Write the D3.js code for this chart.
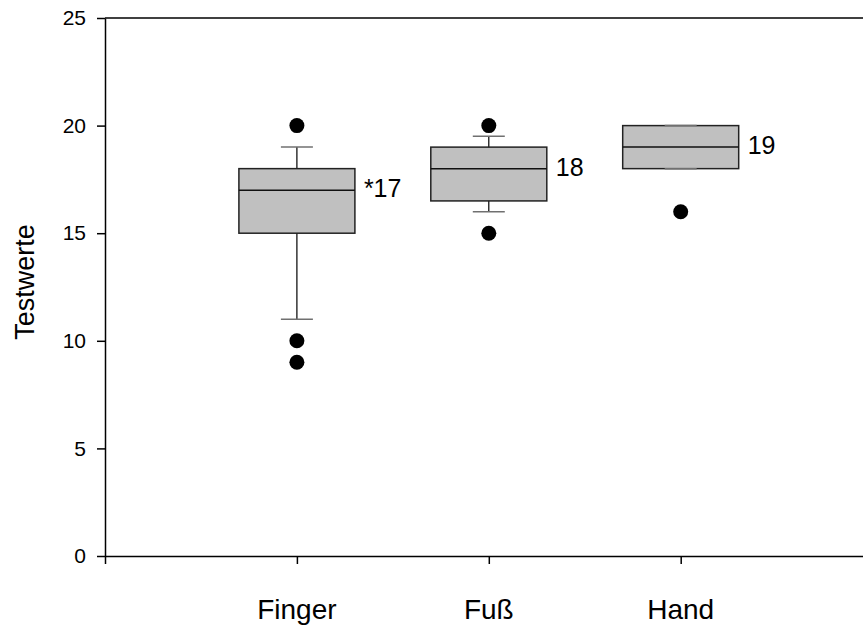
<!DOCTYPE html>
<html lang="de">
<head>
	<meta charset="utf-8">
	<title>Testwerte Boxplot</title>
	<script src="https://cdn.jsdelivr.net/npm/d3@7"></script>
	<style>
		body { margin: 0; background: #fff; }
		text { font-family: Arial, "Liberation Sans", sans-serif; fill: #000; }
	</style>
</head>
<body>
<script>
	// Data
	var categories = ["Finger", "Fuß", "Hand"];
	var lowerWhisker = [11, 16, 18];
	var q1 = [15, 16.5, 18];
	var medians = [17, 18, 19];
	var q3 = [18, 19, 20];
	var upperWhisker = [19, 19.5, 20];
	var outliers = [[20, 10, 9], [20, 15], [16]];
	var boxLabels = ["*17", "18", "19"];
	var yTicks = [0, 5, 10, 15, 20, 25];

	// canvas
	var width = 863;
	var height = 626;
	var margin = {top: 18, right: 0, bottom: 70, left: 105};

	var svg = d3.select("body")
				.append("svg")
				.attr("width", width)
				.attr("height", height);

	// scales: categories sit at 1, 2, 3 on a linear axis
	var xScale = d3.scaleLinear()
				   .domain([0, 3.95])
				   .range([margin.left, width - margin.right]);

	var yScale = d3.scaleLinear()
				   .domain([0, 25])
				   .range([height - margin.bottom, margin.top]);

	var boxWidth = 116;
	var capWidth = 32;

	// y axis
	var yAxis = d3.axisLeft(yScale)
				  .tickValues(yTicks)
				  .tickSize(8)
				  .tickSizeOuter(0)
				  .tickPadding(11);

	var gy = svg.append("g")
		.attr("transform", "translate(" + margin.left + ",0)")
		.call(yAxis);
	gy.attr("font-size", null).attr("font-family", null);
	gy.selectAll("text").style("font-size", "21px");
	gy.selectAll("path, line").attr("stroke", "#000").attr("stroke-width", 1.5);

	// x axis, ticks only
	var xAxis = d3.axisBottom(xScale)
				  .tickValues([0, 1, 2, 3])
				  .tickFormat("")
				  .tickSize(8)
				  .tickSizeOuter(0);

	var gx = svg.append("g")
		.attr("transform", "translate(0," + yScale(0) + ")")
		.call(xAxis);
	gx.selectAll("path, line").attr("stroke", "#000").attr("stroke-width", 1.5);

	// top frame line
	svg.append("line")
		.attr("x1", xScale(0)).attr("x2", xScale(3.95))
		.attr("y1", yScale(25)).attr("y2", yScale(25))
		.attr("stroke", "#000")
		.attr("stroke-width", 1.5);

	// category labels
	svg.selectAll(".cat")
		.data(categories)
		.enter()
		.append("text")
		.attr("class", "cat")
		.attr("x", function(d, i) { return xScale(i + 1); })
		.attr("y", 619)
		.attr("text-anchor", "middle")
		.style("font-size", "28px")
		.text(function(d) { return d; });

	// y title
	svg.append("text")
		.attr("transform", "translate(34," + 282 + ") rotate(-90)")
		.attr("text-anchor", "middle")
		.style("font-size", "27px")
		.text("Testwerte");

	// boxes
	var boxes = svg.selectAll(".box")
		.data(categories)
		.enter()
		.append("g")
		.attr("class", "box");

	// whisker stems
	boxes.append("line")
		.attr("x1", function(d, i) { return xScale(i + 1); })
		.attr("x2", function(d, i) { return xScale(i + 1); })
		.attr("y1", function(d, i) { return yScale(upperWhisker[i]); })
		.attr("y2", function(d, i) { return yScale(lowerWhisker[i]); })
		.attr("stroke", "#000")
		.attr("stroke-width", 1.2);

	boxes.append("rect")
		.attr("x", function(d, i) { return xScale(i + 1) - boxWidth / 2; })
		.attr("y", function(d, i) { return yScale(q3[i]); })
		.attr("width", boxWidth)
		.attr("height", function(d, i) { return yScale(q1[i]) - yScale(q3[i]); })
		.attr("fill", "#c0c0c0")
		.attr("stroke", "#222")
		.attr("stroke-width", 1.5);

	boxes.append("line")
		.attr("x1", function(d, i) { return xScale(i + 1) - boxWidth / 2; })
		.attr("x2", function(d, i) { return xScale(i + 1) + boxWidth / 2; })
		.attr("y1", function(d, i) { return yScale(medians[i]); })
		.attr("y2", function(d, i) { return yScale(medians[i]); })
		.attr("stroke", "#111")
		.attr("stroke-width", 1.5);

	// whisker caps
	[upperWhisker, lowerWhisker].forEach(function(arr) {
		boxes.append("line")
			.attr("x1", function(d, i) { return xScale(i + 1) - capWidth / 2; })
			.attr("x2", function(d, i) { return xScale(i + 1) + capWidth / 2; })
			.attr("y1", function(d, i) { return yScale(arr[i]); })
			.attr("y2", function(d, i) { return yScale(arr[i]); })
			.attr("stroke", "#707070")
			.attr("stroke-width", 1.5);
	});

	// outliers
	boxes.each(function(d, i) {
		d3.select(this).selectAll("circle")
			.data(outliers[i])
			.enter()
			.append("circle")
			.attr("cx", xScale(i + 1))
			.attr("cy", function(v) { return yScale(v); })
			.attr("r", 7.5)
			.attr("fill", "#000");
	});

	// median labels
	boxes.append("text")
		.attr("x", function(d, i) { return xScale(i + 1) + boxWidth / 2 + 9; })
		.attr("y", function(d, i) { return yScale(medians[i]) + 7; })
		.style("font-size", "25px")
		.text(function(d, i) { return boxLabels[i]; });
</script>
</body>
</html>
